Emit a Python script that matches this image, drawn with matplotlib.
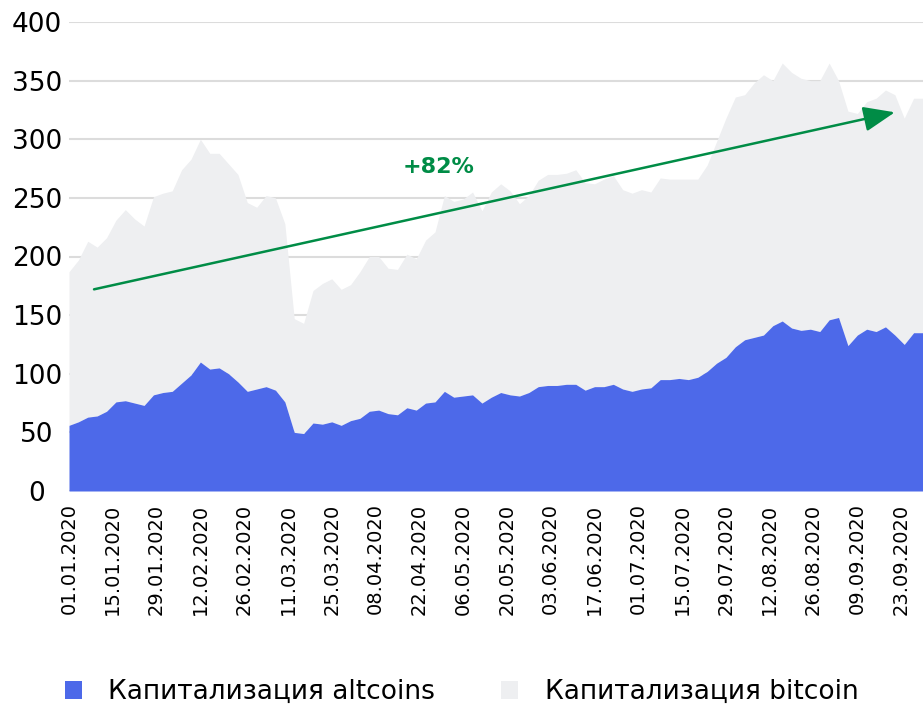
import matplotlib
matplotlib.use('Agg')
import matplotlib.pyplot as plt
import matplotlib.dates as mdates
from matplotlib.patches import Patch
import numpy as np
import pandas as pd

# market cap, bln USD, read every 3 days from 01.01.2020 to 30.09.2020
dates = pd.date_range('2020-01-01', '2020-09-30', freq='3D')

altcoins = [56, 59, 63, 64, 68, 76, 77, 75, 73, 82,
            84, 85, 92, 99, 110, 104, 105, 100, 93, 85,
            87, 89, 86, 76, 50, 49, 58, 57, 59, 56,
            60, 62, 68, 69, 66, 65, 71, 69, 75, 76,
            85, 80, 81, 82, 75, 80, 84, 82, 81, 84,
            89, 90, 90, 91, 91, 86, 89, 89, 91, 87,
            85, 87, 88, 95, 95, 96, 95, 97, 102, 109,
            114, 123, 129, 131, 133, 141, 145, 139, 137, 138,
            136, 146, 148, 124, 133, 138, 136, 140, 133, 125,
            135, 135]

# top of the stack (altcoins + bitcoin)
total_cap = [187, 197, 213, 208, 216, 231, 240, 232, 226, 251,
             254, 256, 274, 283, 300, 288, 288, 279, 270, 246,
             242, 252, 250, 228, 147, 143, 171, 177, 181, 172,
             176, 187, 200, 200, 190, 189, 202, 198, 214, 221,
             252, 247, 249, 255, 239, 255, 262, 256, 245, 252,
             265, 270, 270, 271, 274, 263, 262, 266, 269, 257,
             254, 257, 255, 267, 266, 266, 266, 266, 278, 298,
             318, 336, 338, 348, 355, 350, 365, 357, 352, 350,
             350, 365, 350, 324, 322, 332, 335, 342, 338, 318,
             335, 335]

tick_dates = pd.date_range('2020-01-01', '2020-09-23', freq='14D')
labels = ['Капитализация altcoins', 'Капитализация bitcoin']
growth_text = '+82%'
arrow_from = (pd.Timestamp('2020-01-09'), 172)
arrow_to = (pd.Timestamp('2020-09-21'), 323)

blue = '#4d69e9'
grey = '#eeeff1'
green = '#008c46'

plt.rcParams['font.family'] = ['DejaVu Sans']

fig = plt.figure(figsize=(9.23, 7.05), dpi=100)
ax = fig.add_axes([69 / 923, 1 - 491 / 705, 1 - 69 / 923, (491 - 22) / 705])

ax.fill_between(dates, altcoins, total_cap, color=grey, lw=0, zorder=1)
ax.fill_between(dates, 0, altcoins, color=blue, lw=0, zorder=2)

ax.set_ylim(0, 400)
ax.set_xlim(dates[0], dates[-1])
ax.set_yticks(np.arange(0, 401, 50))
ax.yaxis.grid(True, color='#dcdcdc', lw=1.5, zorder=0)
ax.set_axisbelow(True)
for s in ax.spines.values():
    s.set_visible(False)

ax.tick_params(axis='y', length=0, pad=23, labelsize=19)
for t in ax.get_yticklabels():
    t.set_ha('center')

ax.set_xticks(tick_dates)
ax.xaxis.set_major_formatter(mdates.DateFormatter('%d.%m.%Y'))
ax.tick_params(axis='x', length=0, pad=9, labelsize=14, labelrotation=90)

ax.annotate('', xy=arrow_to, xytext=arrow_from,
            arrowprops=dict(arrowstyle='-|>,head_length=0.55,head_width=0.22',
                            mutation_scale=35, color=green, lw=1.8,
                            shrinkA=0, shrinkB=0),
            zorder=5)
ax.text(pd.Timestamp('2020-04-28'), 276, growth_text, color=green,
        fontsize=16, fontweight='bold', ha='center', va='center', zorder=5)

handles = [Patch(facecolor=blue, edgecolor='none'),
           Patch(facecolor=grey, edgecolor='none')]
fig.legend(handles, labels, loc='center', bbox_to_anchor=(0.5, 13 / 705),
           ncol=2, frameon=False, fontsize=19, handlelength=0.65,
           handleheight=0.65, handletextpad=1.0, columnspacing=2.5)

fig.savefig('out.png', dpi=100)
